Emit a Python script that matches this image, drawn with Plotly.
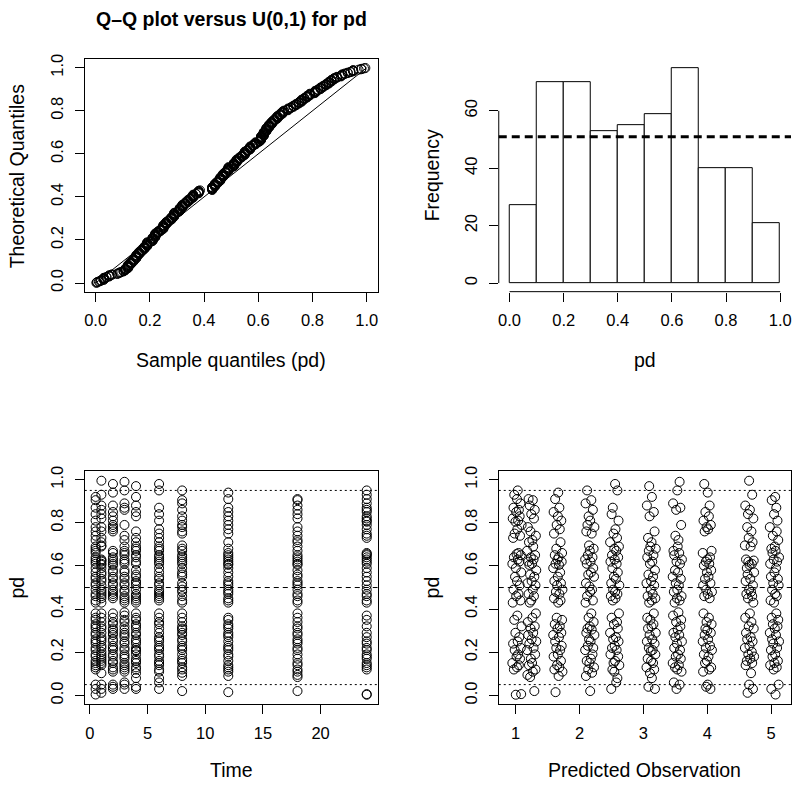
import numpy as np
import plotly.graph_objects as go

# ---------------- data ----------------
times = [0.5, 1, 2, 3, 4, 6, 8, 12, 18, 24]
pred_obs = [5.05, 4.66, 4.00, 3.53, 3.12, 2.55, 2.16, 1.66, 1.25, 1.02]

pd_t0_5 = [0.004, 0.03, 0.05, 0.12, 0.13, 0.14, 0.15, 0.16, 0.18, 0.19, 0.21, 0.22, 0.24, 0.25, 0.26, 0.28, 0.29,
           0.31, 0.32, 0.33, 0.35, 0.36, 0.38, 0.43, 0.44, 0.46, 0.47, 0.49, 0.51, 0.52, 0.54, 0.55, 0.57, 0.59,
           0.61, 0.62, 0.63, 0.64, 0.66, 0.67, 0.68, 0.69, 0.72, 0.74, 0.76, 0.78, 0.81, 0.84, 0.87, 0.905, 0.92]
pd_t1 = [0.012, 0.03, 0.05, 0.103, 0.14, 0.15, 0.16, 0.17, 0.18, 0.19, 0.202, 0.22, 0.23, 0.25, 0.26, 0.27, 0.29,
         0.31, 0.32, 0.34, 0.36, 0.38, 0.43, 0.45, 0.46, 0.47, 0.48, 0.49, 0.51, 0.53, 0.54, 0.56, 0.57, 0.59,
         0.605, 0.61, 0.62, 0.625, 0.63, 0.69, 0.695, 0.71, 0.73, 0.76, 0.78, 0.82, 0.84, 0.86, 0.88, 0.93, 0.995]
pd_t2 = [0.03, 0.04, 0.05, 0.11, 0.12, 0.13, 0.15, 0.16, 0.18, 0.19, 0.21, 0.22, 0.23, 0.25, 0.26, 0.28, 0.29,
         0.302, 0.31, 0.33, 0.34, 0.36, 0.38, 0.45, 0.46, 0.47, 0.48, 0.49, 0.51, 0.52, 0.54, 0.55, 0.57, 0.58,
         0.602, 0.61, 0.62, 0.63, 0.64, 0.66, 0.67, 0.76, 0.77, 0.78, 0.79, 0.81, 0.83, 0.85, 0.88, 0.94, 0.98]
pd_t3 = [0.03, 0.05, 0.06, 0.11, 0.12, 0.13, 0.14, 0.15, 0.17, 0.18, 0.19, 0.21, 0.22, 0.24, 0.25, 0.27, 0.28,
         0.29, 0.305, 0.32, 0.34, 0.35, 0.37, 0.385, 0.43, 0.44, 0.45, 0.46, 0.48, 0.49, 0.51, 0.52, 0.54, 0.55,
         0.57, 0.58, 0.61, 0.62, 0.63, 0.65, 0.66, 0.67, 0.69, 0.72, 0.74, 0.79, 0.86, 0.87, 0.89, 0.95, 0.99]
pd_t4 = [0.03, 0.04, 0.08, 0.103, 0.12, 0.13, 0.15, 0.16, 0.17, 0.19, 0.205, 0.21, 0.22, 0.24, 0.25, 0.26, 0.28,
         0.29, 0.31, 0.32, 0.33, 0.35, 0.36, 0.38, 0.43, 0.44, 0.45, 0.46, 0.47, 0.49, 0.51, 0.52, 0.53, 0.55,
         0.56, 0.58, 0.61, 0.62, 0.64, 0.65, 0.67, 0.68, 0.69, 0.71, 0.73, 0.76, 0.83, 0.85, 0.88, 0.92, 0.97]
pd_t6 = [0.03, 0.06, 0.08, 0.11, 0.12, 0.14, 0.15, 0.16, 0.18, 0.19, 0.21, 0.22, 0.23, 0.25, 0.26, 0.27, 0.29,
         0.31, 0.33, 0.34, 0.36, 0.38, 0.44, 0.45, 0.46, 0.47, 0.48, 0.49, 0.51, 0.52, 0.54, 0.55, 0.57, 0.59,
         0.61, 0.62, 0.63, 0.64, 0.65, 0.67, 0.68, 0.69, 0.71, 0.73, 0.75, 0.77, 0.81, 0.84, 0.87, 0.95, 0.98]
pd_t8 = [0.02, 0.09, 0.105, 0.12, 0.13, 0.15, 0.16, 0.17, 0.19, 0.21, 0.22, 0.23, 0.25, 0.26, 0.28, 0.29, 0.305,
         0.31, 0.32, 0.34, 0.36, 0.38, 0.43, 0.44, 0.46, 0.48, 0.49, 0.505, 0.52, 0.55, 0.56, 0.57, 0.59, 0.61,
         0.62, 0.63, 0.64, 0.65, 0.67, 0.68, 0.695, 0.75, 0.76, 0.78, 0.79, 0.81, 0.83, 0.86, 0.89, 0.905, 0.95]
pd_t12 = [0.015, 0.09, 0.11, 0.12, 0.13, 0.14, 0.16, 0.18, 0.19, 0.21, 0.22, 0.23, 0.25, 0.27, 0.28, 0.29, 0.31,
          0.32, 0.33, 0.35, 0.36, 0.43, 0.44, 0.45, 0.47, 0.48, 0.49, 0.51, 0.52, 0.53, 0.55, 0.57, 0.59, 0.605,
          0.61, 0.62, 0.63, 0.64, 0.65, 0.66, 0.68, 0.71, 0.75, 0.77, 0.79, 0.81, 0.83, 0.85, 0.87, 0.91, 0.94]
pd_t18 = [0.02, 0.085, 0.095, 0.11, 0.12, 0.14, 0.15, 0.17, 0.19, 0.21, 0.22, 0.24, 0.25, 0.26, 0.28, 0.29, 0.31,
          0.32, 0.34, 0.36, 0.38, 0.43, 0.44, 0.46, 0.47, 0.49, 0.51, 0.52, 0.53, 0.55, 0.56, 0.58, 0.605, 0.61,
          0.62, 0.63, 0.64, 0.65, 0.67, 0.69, 0.71, 0.72, 0.74, 0.76, 0.78, 0.82, 0.84, 0.86, 0.88, 0.905, 0.91]
pd_t24 = [0.003, 0.006, 0.12, 0.13, 0.14, 0.15, 0.17, 0.18, 0.19, 0.21, 0.22, 0.24, 0.25, 0.27, 0.29, 0.32, 0.35,
          0.37, 0.43, 0.44, 0.46, 0.47, 0.49, 0.51, 0.53, 0.55, 0.57, 0.59, 0.61, 0.62, 0.63, 0.64, 0.65, 0.655,
          0.66, 0.73, 0.74, 0.75, 0.77, 0.79, 0.805, 0.81, 0.82, 0.83, 0.85, 0.86, 0.87, 0.89, 0.91, 0.93, 0.95]

pd_by_time = [pd_t0_5, pd_t1, pd_t2, pd_t3, pd_t4, pd_t6, pd_t8, pd_t12, pd_t18, pd_t24]

# jitter applied to the predicted observation (in units of 0.006)
jit_t0_5 = [3, -8, 11, -2, 6, -11, 0, 9, -5, 2, -9, 7, -3, 12, -6, 4, -12, 1, 8, -4, 10, -7, 5, -1, -10, 6, 2, -6,
            11, -3, 9, -9, 0, 4, -11, 7, -2, 12, -5, 3, -8, 1, 10, -4, 6, -12, 8, -1, 5, -7, 2]
jit_t1 = [-5, 9, -1, 4, -10, 7, -7, 2, 12, -3, 6, -12, 0, 8, -6, 3, -9, 11, -2, 5, -11, 1, 10, -4, 7, -8, 4, -1,
          9, -10, 2, -5, 12, -7, 0, 6, -3, 11, -9, 3, -12, 8, -2, 5, -6, 10, -4, 1, -11, 7, -1]
jit_t2 = [8, -3, 1, -11, 5, 10, -6, -1, 3, -9, 12, -4, 7, -12, 2, -7, 9, 0, -5, 11, -2, 4, -10, 6, -8, 1, 12, -3,
          -11, 8, -6, 3, -1, 10, -9, 5, -4, 0, 7, -12, 11, -7, 2, -2, 9, -10, 4, -5, 6, 1, -8]
jit_t3 = [-2, 6, -9, 11, 0, -6, 4, -12, 9, -4, 2, 7, -8, -1, 12, -5, 5, -10, 1, 8, -3, 10, -11, 3, -7, 6, -1, 11,
          -9, 0, 4, -4, 9, -12, 2, -6, 7, -2, 12, -8, 5, -10, 1, 3, -5, 10, -3, 8, -11, 0, 6]
jit_t4 = [10, -7, 2, -3, 8, -12, 5, 0, -9, 11, -1, 4, -6, 9, -11, 3, -4, 12, -8, 1, 6, -2, -10, 7, -5, 2, 11, -9,
          4, -1, 8, -12, 0, 5, -7, 10, -3, 3, -10, 6, -6, 12, -2, 1, -8, 9, -4, 7, -11, 2, -5]
jit_t6 = [-9, 4, 7, -1, -6, 12, -3, 1, 9, -11, 5, -7, 0, 10, -4, 3, -12, 8, -2, 6, -8, 11, -5, 2, -10, 7, 1, -4,
          12, -9, 3, -2, 8, -6, 5, -11, 0, 9, -7, 4, -1, 11, -12, 6, -3, 2, 10, -8, -5, 7, 1]
jit_t8 = [1, -10, 6, -4, 11, -1, -8, 3, 7, -12, 9, -5, 2, -2, 12, -9, 5, -6, 0, 10, -3, 4, -11, 8, -7, 1, 6, -1,
          -10, 11, -4, 3, 9, -8, 2, -12, 7, -5, 0, 10, -2, 5, -9, 12, -6, 1, -3, 8, -11, 4, -7]
jit_t12 = [-6, 2, 12, -9, 4, -2, 8, -11, 0, 6, -4, 10, -7, 3, -12, 9, -1, 5, -8, 11, -3, 1, 7, -10, 4, -5, 12, -2,
           8, -9, 0, 6, -12, 3, -6, 10, -1, 2, -8, 11, -4, 7, -10, 5, -3, 9, 0, -11, 4, -7, 1]
jit_t18 = [7, -4, -11, 3, 10, -7, 1, -2, 9, -12, 5, -6, 12, 0, -9, 4, -3, 8, -10, 2, 11, -5, -1, 6, -8, 3, 10, -11,
           0, 7, -4, 12, -6, 1, -9, 5, -2, 9, -12, 4, -7, 2, 11, -3, -10, 6, -1, 8, -5, 3, -8]
jit_t24 = [-3, 11, -8, 0, 5, -12, 8, -1, 3, -6, 10, -10, 2, 6, -4, 12, -7, 1, -11, 9, -2, 4, -9, 7, 0, -5, 11, -3,
           -12, 6, 2, -8, 10, -1, 4, -10, 8, -6, 1, 12, -4, 3, -11, 7, -2, 5, -9, 9, 0, -7, 2]
jit_by_time = [jit_t0_5, jit_t1, jit_t2, jit_t3, jit_t4, jit_t6, jit_t8, jit_t12, jit_t18, jit_t24]
JIT_UNIT = 0.006

ref_line = [0, 1]
unit_ticks = [0, 0.2, 0.4, 0.6, 0.8, 1.0]
unit_labels = ["0.0", "0.2", "0.4", "0.6", "0.8", "1.0"]
freq_ticks = [0, 20, 40, 60]
time_ticks = [0, 5, 10, 15, 20]
pred_ticks = [1, 2, 3, 4, 5]
pd_hlines_dot = [0.05, 0.95]
pd_hline_dash = 0.5

# ---------------- derived ----------------
pd_all = np.concatenate([np.array(v) for v in pd_by_time])
n = len(pd_all)
qq_sample = np.sort(pd_all)
qq_theo = (np.arange(1, n + 1) - 0.5) / n
mean_count = n / 10.0

time_x, time_y, pred_x, pred_y = [], [], [], []
for t, p, vals, jit in zip(times, pred_obs, pd_by_time, jit_by_time):
    for v, j in zip(vals, jit):
        time_x.append(t)
        time_y.append(v)
        pred_x.append(p + j * JIT_UNIT)
        pred_y.append(v)

# ---------------- figure ----------------
FONT = "Liberation Sans, Arial, Helvetica, sans-serif"
TICK = 16.5
LAB = 19.5
W, H = 800, 786

marker = dict(symbol="circle-open", size=9, color="black", line=dict(width=1, color="black"))

fig = go.Figure()
fig.add_trace(go.Scatter(x=qq_sample, y=qq_theo, mode="markers", marker=marker, xaxis="x", yaxis="y",
                         showlegend=False, hoverinfo="skip"))
fig.add_trace(go.Scatter(x=ref_line, y=ref_line, mode="lines", line=dict(color="black", width=1),
                         xaxis="x", yaxis="y", showlegend=False, hoverinfo="skip"))
fig.add_trace(go.Histogram(x=pd_all, xbins=dict(start=0, end=1.0, size=0.1), autobinx=False,
                           marker=dict(color="white", line=dict(color="black", width=1)),
                           xaxis="x2", yaxis="y2", showlegend=False, hoverinfo="skip"))
fig.add_trace(go.Scatter(x=time_x, y=time_y, mode="markers", marker=marker, xaxis="x3", yaxis="y3",
                         showlegend=False, hoverinfo="skip"))
fig.add_trace(go.Scatter(x=pred_x, y=pred_y, mode="markers", marker=marker, xaxis="x4", yaxis="y4",
                         showlegend=False, hoverinfo="skip"))

LX = [84 / W, 377.5 / W]
RX = [499 / W, 792 / W]
TY = [1 - 288.5 / H, 1 - 54.5 / H]
BY = [1 - 703.5 / H, 1 - 469 / H]


def ax(domain, rng, tickvals, ticktext=None, box=True, anchor=None, ylike=False):
    d = dict(domain=domain, range=rng, tickvals=tickvals, showgrid=False, zeroline=False,
             ticks="outside", ticklen=9, tickwidth=1, tickcolor="black",
             tickfont=dict(family=FONT, size=TICK, color="black"),
             showline=box, mirror=box, linecolor="black", linewidth=1,
             ticklabelstandoff=5, anchor=anchor, fixedrange=True)
    if ticktext is not None:
        d["ticktext"] = ticktext
    if ylike:
        d["tickangle"] = -90
    return d


fig.update_layout(
    width=W, height=H, margin=dict(l=0, r=0, t=0, b=0),
    paper_bgcolor="white", plot_bgcolor="white", bargap=0,
    font=dict(family=FONT, color="black"),
    xaxis=ax(LX, [-0.04, 1.04], unit_ticks, unit_labels, anchor="y"),
    yaxis=ax(TY, [-0.04, 1.04], unit_ticks, unit_labels, anchor="x", ylike=True),
    xaxis2=ax(RX, [-0.04, 1.04], unit_ticks, unit_labels, box=False, anchor="y2"),
    yaxis2=ax(TY, [-3, 78], freq_ticks, None, box=False, anchor="x2", ylike=True),
    xaxis3=ax(LX, [-0.44, 24.94], time_ticks, None, anchor="y3"),
    yaxis3=ax(BY, [-0.04, 1.04], unit_ticks, unit_labels, anchor="x3", ylike=True),
    xaxis4=ax(RX, [0.735, 5.31], pred_ticks, None, anchor="y4"),
    yaxis4=ax(BY, [-0.04, 1.04], unit_ticks, unit_labels, anchor="x4", ylike=True),
)

shapes = []
# detached R-style axis lines for histogram
shapes.append(dict(type="line", xref="x2", yref="y2 domain", x0=min(unit_ticks), x1=max(unit_ticks), y0=0, y1=0,
                   line=dict(color="black", width=1)))
shapes.append(dict(type="line", xref="x2 domain", yref="y2", x0=0, x1=0, y0=min(freq_ticks), y1=max(freq_ticks),
                   line=dict(color="black", width=1)))
# expected frequency line
shapes.append(dict(type="line", xref="x2 domain", yref="y2", x0=0, x1=1, y0=mean_count, y1=mean_count,
                   line=dict(color="black", width=3, dash="8px,5px")))
for xr, yr in [("x3", "y3"), ("x4", "y4")]:
    for h in pd_hlines_dot:
        shapes.append(dict(type="line", xref=xr + " domain", yref=yr, x0=0, x1=1, y0=h, y1=h,
                           line=dict(color="black", width=1, dash="2px,3px")))
    shapes.append(dict(type="line", xref=xr + " domain", yref=yr, x0=0, x1=1, y0=pd_hline_dash, y1=pd_hline_dash,
                       line=dict(color="black", width=1, dash="5px,4px")))
fig.update_layout(shapes=shapes)

lab = dict(family=FONT, size=LAB, color="black")
lcx = (LX[0] + LX[1]) / 2
rcx = (RX[0] + RX[1]) / 2
tcy = (TY[0] + TY[1]) / 2
bcy = (BY[0] + BY[1]) / 2
ann = [
    dict(text="<b>Q–Q plot versus U(0,1) for pd</b>", x=lcx, y=1 - 14 / H),
    dict(text="Sample quantiles (pd)", x=lcx, y=1 - 357 / H),
    dict(text="pd", x=rcx, y=1 - 357 / H),
    dict(text="Time", x=lcx, y=1 - 770 / H),
    dict(text="Predicted Observation", x=rcx, y=1 - 770 / H),
    dict(text="Theoretical Quantiles", x=16 / W, y=tcy, textangle=-90),
    dict(text="Frequency", x=432 / W, y=tcy, textangle=-90),
    dict(text="pd", x=16 / W, y=bcy, textangle=-90),
    dict(text="pd", x=432 / W, y=bcy, textangle=-90),
]
for a in ann:
    a.update(xref="paper", yref="paper", showarrow=False, xanchor="center", yanchor="middle", font=lab)
fig.update_layout(annotations=ann)

fig.write_html("out.html", config={"displayModeBar": False},
               post_script="document.body.style.margin='0';document.body.style.overflow='hidden';")
